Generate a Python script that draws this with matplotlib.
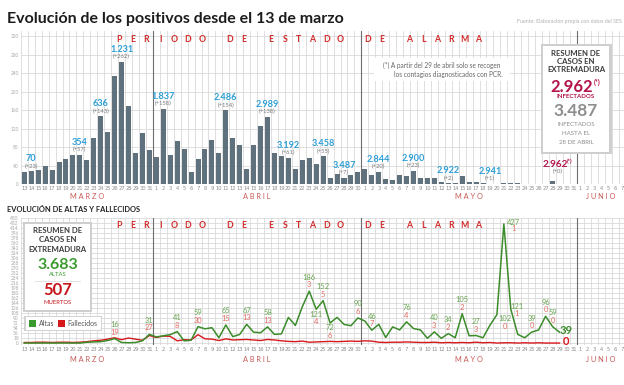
import numpy as np
import matplotlib.pyplot as plt
from matplotlib.patches import Rectangle

plt.rcParams['font.family'] = ['Lato', 'DejaVu Sans']

# days shown on the x axis: 13 March to 7 June
march = list(range(13, 32))
april = list(range(1, 31))
may = list(range(1, 32))
june = list(range(1, 8))
day_labels = march + april + may + june
months = ['MARZO', 'ABRIL', 'MAYO', 'JUNIO']
month_lengths = [len(march), len(april), len(may), len(june)]

# new positives per day, 13 March - 28 May
positives = [25, 28, 31, 39, 31, 47, 53, 62, 63, 52, 100, 147, 112, 233, 264, 169, 68, 110, 74,
             58, 163, 63, 93, 75, 27, 55, 75, 96, 66, 159, 100, 84, 32, 84, 126, 145, 68, 61, 57, 32,
             52, 56, 43, 60, 13, 22, 14, 19, 27,
             32, 19, 27, 10, 9, 19, 17, 29, 13, 12, 13, 4, 2, 2, 17, 4, 5, 2, 1, 1, 3, 3, 3, 0, 0, 1, 1, 7]

# altas (recovered) and fallecidos (deaths) per day, 13 March - 29 May
altas = [0, 0, 0, 0, 0, 0, 0, 0, 0, 3, 4, 5, 9, 16, 2, 1, 2, 8, 31,
         22, 26, 30, 41, 8, 10, 59, 51, 55, 19, 65, 23, 31, 67, 39, 37, 58, 31, 33, 92,
         63, 130, 186, 121, 152, 72, 92, 67, 62, 90,
         79, 46, 67, 20, 58, 47, 76, 52, 47, 17, 40, 17, 34, 19, 105, 26, 27, 19, 64, 102,
         427, 121, 31, 19, 39, 47, 96, 59, 39]
fallecidos = [2, 2, 3, 3, 2, 3, 3, 2, 3, 5, 8, 10, 14, 19, 12, 18, 14, 10, 27,
              20, 25, 24, 8, 12, 11, 30, 15, 14, 9, 15, 11, 12, 13, 11, 9, 13, 11, 8, 6,
              5, 7, 3, 4, 5, 6, 5, 6, 7, 6,
              8, 7, 3, 2, 3, 3, 4, 3, 2, 2, 3, 1, 2, 1, 2, 1, 3, 1, 2, 0,
              1, 1, 0, 1, 0, 1, 0, 0, 0]

# labelled days (index from 13 March)
top_label_days = [1, 8, 11, 14, 20, 29, 35, 38, 43, 46, 51, 56, 61, 67]
top_label_totals = ['70', '354', '636', '1.231', '1.837', '2.486', '2.989', '3.192',
                    '3.458', '3.487', '2.844', '2.900', '2.922', '2.941']
top_label_deltas = ['(+23)', '(+57)', '(+143)', '(+262)', '(+158)', '(+154)', '(+138)', '(+61)',
                    '(+55)', '(+7)', '(+20)', '(+23)', '(+2)', '(+1)']
pcr_day = 76
pcr_total = '2.962'
pcr_delta = '(+0)'

alt_label_days = [13, 18, 22, 25, 29, 32, 35, 41, 42, 43, 44, 48, 50, 55, 59, 61, 63, 65,
                  68, 69, 70, 73, 75, 76]
# label offsets in pixels (dx, green dy, red dy) where they differ from the default
alt_label_offsets = {42: (0, -5, -12.5), 44: (0, -5, -13), 68: (8, -3.5, -11.5),
                     69: (10, 1, -5), 70: (6, 3, -4)}

period_text = 'PERIODO DE ESTADO DE ALARMA'

W, H = 624, 385
BAR = '#5e717d'
BLUE = '#2c9fd8'
MAGENTA = '#b3124b'
GREEN = '#3b8c2a'
GREEN_L = '#6aa653'
RED = '#d7191c'
RED_L = '#e26a62'
LETTER = '#d42a2a'
MONTH = '#c85a55'
GRID = '#d6d6d6'
PT = 0.72  # pixels -> points at 100 dpi
NARROW = ['Liberation Sans Narrow', 'DejaVu Sans']


def frac(x0, y0, x1, y1):
    return [x0 / W, 1 - y1 / H, (x1 - x0) / W, (y1 - y0) / H]


x = np.arange(len(day_labels))
n = len(day_labels)


def style(ax, ymin, ymax, yticks, month_y):
    ax.set_xlim(-0.5, n - 0.5)
    ax.set_ylim(ymin, ymax)
    ax.set_xticks(x)
    ax.set_xticklabels(day_labels, fontsize=3.7, color='#8c8c8c', family=NARROW)
    ax.set_xticks(np.arange(n + 1) - 0.5, minor=True)
    ax.set_yticks(yticks)
    ax.set_yticklabels([str(v) for v in yticks], fontsize=3.4, color='#a8a8a8')
    ax.tick_params(which='both', length=0)
    ax.tick_params(axis='x', pad=1.6)
    ax.tick_params(axis='y', pad=1.5)
    ax.grid(which='minor', axis='x', color=GRID, lw=0.55)
    ax.grid(which='major', axis='y', color=GRID, lw=0.55)
    ax.set_axisbelow(True)
    for s in ax.spines.values():
        s.set_visible(False)
    for b in [18.5, 48.5, 79.5]:
        ax.axvline(b, color='#6e6e6e', lw=0.8, zorder=1)
    start = 0
    for name, ln in zip(months, month_lengths):
        ax.text(start + (ln - 1) / 2, month_y, ' '.join(name), transform=ax.get_xaxis_transform(),
                ha='center', va='center', fontsize=5.3, color=MONTH)
        start += ln


def period_letters(ax, yv):
    for k, ch in enumerate(period_text):
        if ch != ' ':
            ax.text(13.6 + 1.99 * k, yv, ch, ha='center', va='center', fontsize=6.3,
                    fontweight='bold', color=LETTER)


fig = plt.figure(figsize=(6.24, 3.85), dpi=100)

# ---- top chart: positives ----
ax1 = fig.add_axes(frac(20.8, 31.4, 625.5, 184))
style(ax1, 0, 330, np.arange(0, 321, 40), -0.085)
ax1.bar(x[:len(positives)], positives, width=0.72, color=BAR, zorder=2)
period_letters(ax1, 312)
for d, tot, dl in zip(top_label_days, top_label_totals, top_label_deltas):
    ax1.annotate(tot, xy=(d, positives[d]), xytext=(0, 12.5 * PT), textcoords='offset points',
                 ha='center', va='center', fontsize=6.6, fontweight='bold', color=BLUE)
    ax1.annotate(dl, xy=(d, positives[d]), xytext=(0, 5 * PT), textcoords='offset points',
                 ha='center', va='center', fontsize=4.2, color='#7a7a7a')
ax1.annotate(pcr_total, xy=(pcr_day, positives[pcr_day]), xytext=(3 * PT, 16.5 * PT),
             textcoords='offset points', ha='center', va='center', fontsize=7.2,
             fontweight='bold', color=MAGENTA)
ax1.annotate('(*)', xy=(pcr_day, positives[pcr_day]), xytext=(17 * PT, 19 * PT),
             textcoords='offset points', ha='center', va='center', fontsize=4,
             fontweight='bold', color=MAGENTA)
ax1.annotate(pcr_delta, xy=(pcr_day, positives[pcr_day]), xytext=(5 * PT, 9 * PT),
             textcoords='offset points', ha='center', va='center', fontsize=4.2, color='#7a7a7a')

# ---- bottom chart: altas y fallecidos ----
ax2 = fig.add_axes(frac(20.8, 217.5, 625.5, 345))
style(ax2, -7, 450, np.arange(0, 451, 18), -0.11)
period_letters(ax2, 423)
ax2.plot(x[:len(fallecidos)], fallecidos, color=RED, lw=1.0, zorder=3)
ax2.plot(x[:len(altas)], altas, color=GREEN, lw=1.1, zorder=4)
for d in alt_label_days:
    dx, dg, dr = alt_label_offsets.get(d, (0, 14, 6.5))
    ax2.annotate(str(altas[d]), xy=(d, altas[d]), xytext=(dx * PT, dg * PT),
                 textcoords='offset points', ha='center', va='center', fontsize=5.4, color=GREEN_L)
    ax2.annotate(str(fallecidos[d]), xy=(d, altas[d]), xytext=(dx * PT, dr * PT),
                 textcoords='offset points', ha='center', va='center', fontsize=5.4, color=RED_L)
last = len(altas) - 1
ax2.annotate(str(altas[last]), xy=(last, altas[last]), xytext=(7 * PT, 2 * PT),
             textcoords='offset points', ha='center', va='center', fontsize=8,
             fontweight='bold', color=GREEN)
ax2.annotate(str(fallecidos[last]), xy=(last, altas[last]), xytext=(7 * PT, -9 * PT),
             textcoords='offset points', ha='center', va='center', fontsize=8,
             fontweight='bold', color=RED)

# ---- overlay: titles, boxes and notes (pixel coordinates) ----
ov = fig.add_axes([0, 0, 1, 1])
ov.set_xlim(0, W)
ov.set_ylim(H, 0)
ov.axis('off')
ov.patch.set_visible(False)

ov.text(7, 19, 'Evolución de los positivos desde el 13 de marzo', fontsize=11.5,
        fontweight='bold', color='#1c1c1c', va='center', ha='left')
ov.text(622, 22, 'Fuente: Elaboración propia con datos del SES', fontsize=3.8,
        color='#b0b0b0', va='center', ha='right')
ov.text(7, 210, 'EVOLUCIÓN DE ALTAS Y FALLECIDOS', fontsize=5.4, fontweight='bold',
        color='#222222', va='center', ha='left')

# note on PCR
ov.add_patch(Rectangle((374, 58), 136, 23, facecolor='white', edgecolor='none'))
ov.text(442, 65.5, '(*) A partir del 29 de abril solo se recogen', fontsize=4.7,
        color='#666666', ha='center', va='center')
ov.text(448, 75, 'los contagios diagnosticados con PCR.', fontsize=4.7,
        color='#666666', ha='center', va='center')

# summary box top right
ov.add_patch(Rectangle((541, 44), 71, 110, facecolor='#cfcfcf', edgecolor='none'))
ov.add_patch(Rectangle((543, 45.5), 66, 106, facecolor='white', edgecolor='none'))
for txt, yy in [('RESUMEN DE', 53), ('CASOS EN', 61), ('EXTREMADURA', 70)]:
    ov.text(576, yy, txt, fontsize=5.6, fontweight='bold', color='#3c3c3c', ha='center', va='center')
ov.text(572, 86.5, '2.962', fontsize=12, fontweight='bold', color=MAGENTA, ha='center', va='center')
ov.text(597, 82, '(*)', fontsize=5, fontweight='bold', color=MAGENTA, ha='center', va='center')
ov.text(576, 96.5, 'INFECTADOS', fontsize=4.4, fontweight='bold', color=MAGENTA, ha='center', va='center')
ov.text(576, 111, '3.487', fontsize=12.5, fontweight='bold', color='#8e8e8e', ha='center', va='center')
for txt, yy in [('INFECTADOS', 125), ('HASTA EL', 133.5), ('28 DE ABRIL', 142)]:
    ov.text(576, yy, txt, fontsize=4.4, color='#8e8e8e', ha='center', va='center')

# summary box bottom left
ov.add_patch(Rectangle((23, 222), 69, 90, facecolor='#cfcfcf', edgecolor='none'))
ov.add_patch(Rectangle((25, 223.5), 65, 86, facecolor='white', edgecolor='none'))
for txt, yy in [('RESUMEN DE', 230.5), ('CASOS EN', 240), ('EXTREMADURA', 249.5)]:
    ov.text(57.5, yy, txt, fontsize=5.6, fontweight='bold', color='#3c3c3c', ha='center', va='center')
ov.text(57.5, 265, '3.683', fontsize=11.5, fontweight='bold', color='#3a9a2e', ha='center', va='center')
ov.text(57.5, 275, 'ALTAS', fontsize=4.2, color='#3a9a2e', ha='center', va='center')
ov.plot([35, 80], [280.5, 280.5], color='#dddddd', lw=0.6)
ov.text(57.5, 290, '507', fontsize=12, fontweight='bold', color='#c4161c', ha='center', va='center')
ov.text(57.5, 302, 'MUERTOS', fontsize=4.2, color='#c4161c', ha='center', va='center')

# legend
ov.add_patch(Rectangle((24, 315.5), 78, 15, facecolor='#d3d3d3', edgecolor='none'))
ov.add_patch(Rectangle((25.5, 316.5), 75, 13, facecolor='white', edgecolor='none'))
ov.add_patch(Rectangle((29, 320), 6.5, 6.5, facecolor='#3a9a2e', edgecolor='none'))
ov.text(38.5, 323.5, 'Altas', fontsize=5, color='#555555', ha='left', va='center')
ov.add_patch(Rectangle((58, 320), 6.5, 6.5, facecolor=RED, edgecolor='none'))
ov.text(67, 323.5, 'Fallecidos', fontsize=5, color='#555555', ha='left', va='center')

fig.savefig('out.png', dpi=100)
